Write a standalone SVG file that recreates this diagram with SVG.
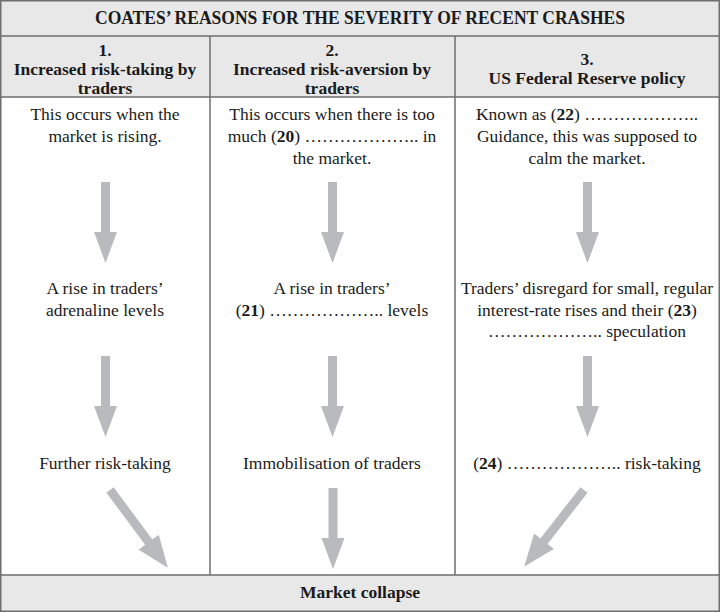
<svg xmlns="http://www.w3.org/2000/svg" width="720" height="612" viewBox="0 0 720 612">
<style>
text{font-family:"Liberation Serif","Times New Roman",serif;font-size:17.5px;fill:#1a1a1a;text-anchor:middle}
.h{font-weight:bold}
.b{font-weight:bold}
.band{fill:#e8e8e9}
.rule{stroke:#6e6e6e;stroke-width:1.5;fill:none}
.arr{fill:#b9babe}
</style>
<defs>
<path id="arrowV" d="M-4.5,0 H4.5 V50 H11.5 L0,81 L-11.5,50 H-4.5 Z"/>
<path id="arrowD" d="M-4.5,0 H4.5 V65 H12.5 L0,97 L-12.5,65 H-4.5 Z"/>
</defs>
<rect x="0" y="0" width="720" height="612" fill="#ffffff"/>
<rect class="band" x="0" y="0" width="720" height="97"/>
<rect class="band" x="0" y="575" width="720" height="37"/>
<g id="grid">
<rect class="rule" x="0.75" y="0.75" width="718.5" height="610.5"/>
<line class="rule" x1="0" y1="36" x2="720" y2="36"/>
<line class="rule" x1="0" y1="97" x2="720" y2="97"/>
<line class="rule" x1="0" y1="575" x2="720" y2="575"/>
<line class="rule" x1="210" y1="36" x2="210" y2="575"/>
<line class="rule" x1="455" y1="36" x2="455" y2="575"/>
</g>
<g id="title"><text class="h" x="360" y="24" style="font-size:19px" textLength="530" lengthAdjust="spacingAndGlyphs">COATES’ REASONS FOR THE SEVERITY OF RECENT CRASHES</text></g>
<g id="head1"><text class="h" x="105" y="56">1.</text><text class="h" x="105" y="75">Increased risk-taking by</text><text class="h" x="105" y="94">traders</text></g>
<g id="head2"><text class="h" x="332" y="56">2.</text><text class="h" x="332" y="75">Increased risk-aversion by</text><text class="h" x="332" y="94">traders</text></g>
<g id="head3"><text class="h" x="587" y="65">3.</text><text class="h" x="587" y="84">US Federal Reserve policy</text></g>
<g id="c1r1"><text x="105" y="120">This occurs when the</text><text x="105" y="142">market is rising.</text></g>
<g id="c2r1"><text x="332" y="120">This occurs when there is too</text><text x="332" y="142">much (<tspan class="b">20</tspan>) ……………….. in</text><text x="332" y="164">the market.</text></g>
<g id="c3r1"><text x="587" y="120">Known as (<tspan class="b">22</tspan>) ………………..</text><text x="587" y="142">Guidance, this was supposed to</text><text x="587" y="164">calm the market.</text></g>
<g id="c1r2"><text x="105" y="294">A rise in traders’</text><text x="105" y="316">adrenaline levels</text></g>
<g id="c2r2"><text x="332" y="294">A rise in traders’</text><text x="332" y="316">(<tspan class="b">21</tspan>) ……………….. levels</text></g>
<g id="c3r2"><text x="587" y="294">Traders’ disregard for small, regular</text><text x="587" y="316">interest-rate rises and their (<tspan class="b">23</tspan>)</text><text x="587" y="337">……………….. speculation</text></g>
<g id="c1r3"><text x="105" y="469">Further risk-taking</text></g>
<g id="c2r3"><text x="332" y="469">Immobilisation of traders</text></g>
<g id="c3r3"><text x="587" y="469">(<tspan class="b">24</tspan>) ……………….. risk-taking</text></g>
<g id="collapse"><text class="h" x="360" y="598">Market collapse</text></g>
<g id="connectors" class="arr">
<use href="#arrowV" transform="translate(105.5,182)"/>
<use href="#arrowV" transform="translate(332.5,182)"/>
<use href="#arrowV" transform="translate(587.5,182)"/>
<use href="#arrowV" transform="translate(105.5,356)"/>
<use href="#arrowV" transform="translate(332.5,356)"/>
<use href="#arrowV" transform="translate(587.5,356)"/>
<use href="#arrowD" transform="translate(110,490) rotate(-36.6)"/>
<use href="#arrowV" transform="translate(333,488)"/>
<use href="#arrowD" transform="translate(584,490) rotate(38)"/>
</g>
</svg>
